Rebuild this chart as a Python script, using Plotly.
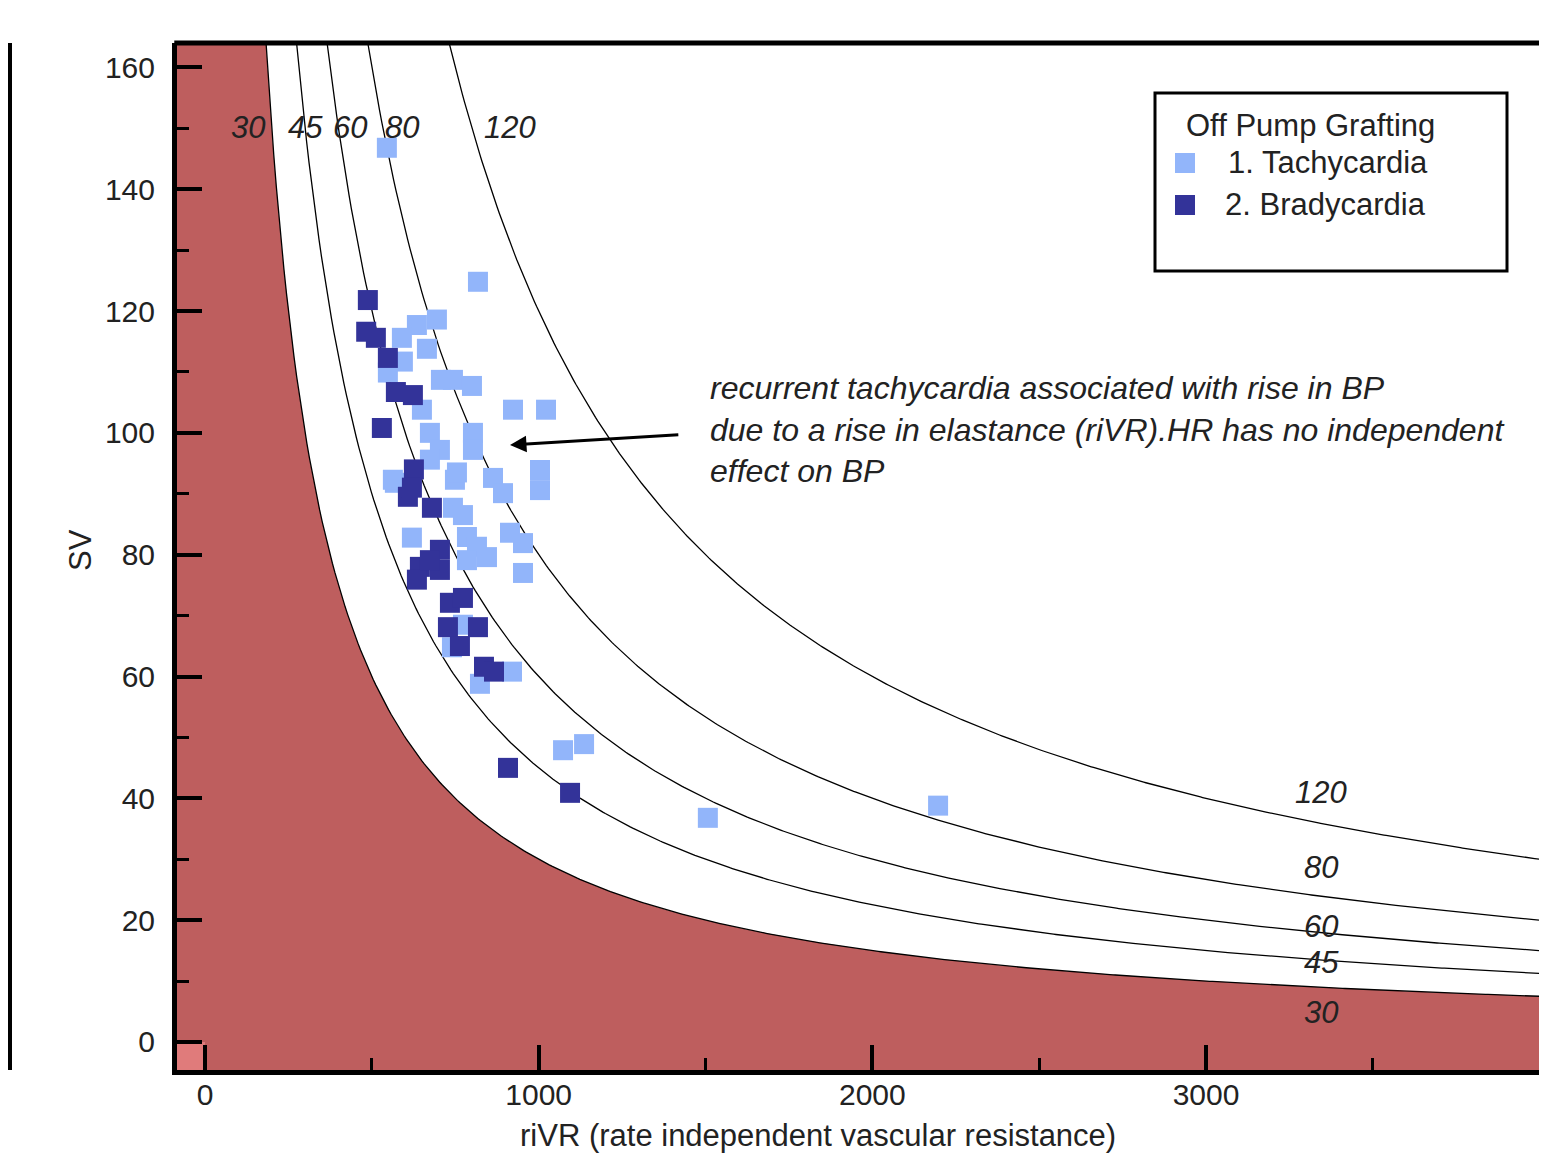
import numpy as np
import plotly.graph_objects as go

# ---------------- data ----------------
tachy_x = [545, 818, 695, 635, 590, 665, 593, 548, 707, 743, 800, 650, 923, 1022,
           674, 803, 704, 803, 674, 1004, 569, 749, 863, 893, 1004, 743, 773, 620,
           785, 815, 914, 953, 953, 785, 845, 755, 773, 740, 920, 824, 1073, 1136,
           1507, 2197, 563]
tachy_y = [146.8, 124.8, 118.6, 117.7, 115.6, 113.8, 111.7, 109.9, 108.7, 108.7, 107.7,
           103.8, 103.8, 103.8, 100.0, 100.0, 97.2, 97.2, 95.6, 93.9, 91.8, 92.3, 92.6,
           90.1, 90.6, 87.7, 86.5, 82.8, 82.9, 81.3, 83.6, 81.9, 77.0, 79.1, 79.6, 93.5,
           68.5, 64.8, 60.8, 58.8, 47.9, 48.9, 36.8, 38.8, 92.3]

brady_x = [488, 483, 512, 548, 572, 623, 530, 626, 608, 680, 704, 644, 704, 635, 674,
           734, 773, 728, 818, 764, 836, 866, 908, 1094, 620]
brady_y = [121.8, 116.6, 115.6, 112.3, 106.7, 106.2, 100.8, 94.0, 89.5, 87.7, 80.8,
           78.0, 77.5, 75.9, 79.1, 72.1, 72.9, 68.1, 68.1, 65.0, 61.6, 60.8, 45.0, 40.9, 91.0]

iso_levels = [30, 45, 60, 80, 120]
top_label_x = [129, 300, 434, 590, 914]
right_label_y = [4.8, 13.0, 18.9, 28.7, 40.9]

series_names = ["1. Tachycardia", "2. Bradycardia"]
legend_title = "Off Pump Grafting"

X_MIN, X_MAX = -84, 3998
Y_MIN, Y_MAX = -4.6, 164.0

RED = "#BE5E5E"
PINK = "#E07B7B"
LIGHT = "#92B5FA"
DARK = "#333399"
TXT = "#222"
FONT = "Liberation Sans, Arial, sans-serif"

# page geometry (body has an 8px margin)
W, H = 1531, 1146
ML, MT, MB = 169, 35, 84
PW = W - ML          # plot width in px
PH = H - MT - MB     # plot height in px
OFF = 8


def px_x(p):  # page pixel -> paper x
    return (p - OFF - ML) / PW


def px_y(p):  # page pixel -> paper y
    return (H - MB - (p - OFF)) / PH


fig = go.Figure()

# red region under the 30 iso-line
k0 = iso_levels[0] * 1000
cx = np.linspace(k0 / Y_MAX, X_MAX, 400)
cy = k0 / cx
fx = np.concatenate([[X_MIN, X_MIN], cx, [X_MAX, X_MIN]])
fy = np.concatenate([[Y_MIN, Y_MAX], cy, [Y_MIN, Y_MIN]])
fig.add_trace(go.Scatter(x=fx, y=fy, mode="lines", fill="toself", fillcolor=RED,
                         line=dict(width=0), hoverinfo="skip", showlegend=False))
# pink corner (negative quadrant)
fig.add_trace(go.Scatter(x=[X_MIN, 0, 0, X_MIN, X_MIN], y=[Y_MIN, Y_MIN, 0, 0, Y_MIN],
                         mode="lines", fill="toself", fillcolor=PINK, line=dict(width=0),
                         hoverinfo="skip", showlegend=False))

# iso-lines
for lv in iso_levels:
    k = lv * 1000
    xs = np.linspace(k / Y_MAX, X_MAX, 500)
    fig.add_trace(go.Scatter(x=xs, y=k / xs, mode="lines",
                             line=dict(color="black", width=1.3),
                             hoverinfo="skip", showlegend=False))

fig.add_trace(go.Scatter(x=tachy_x, y=tachy_y, mode="markers", name=series_names[0],
                         showlegend=False,
                         marker=dict(symbol="square", size=20, color=LIGHT, line=dict(width=0))))
fig.add_trace(go.Scatter(x=brady_x, y=brady_y, mode="markers", name=series_names[1],
                         showlegend=False,
                         marker=dict(symbol="square", size=20, color=DARK, line=dict(width=0))))

ann = []
for lv, lx in zip(iso_levels, top_label_x):
    ann.append(dict(x=lx, y=150.1, xref="x", yref="y", text=f"<i>{lv}</i>", showarrow=False,
                    xanchor="center", yanchor="middle",
                    font=dict(size=31, color=TXT, family=FONT)))
for lv, ly in zip(iso_levels, right_label_y):
    ann.append(dict(x=3345, y=ly, xref="x", yref="y", text=f"<i>{lv}</i>", showarrow=False,
                    xanchor="center", yanchor="middle",
                    font=dict(size=31, color=TXT, family=FONT)))

ann.append(dict(x=1507, y=100.5, xref="x", yref="y", xanchor="left", yanchor="middle",
                align="left", showarrow=False,
                text="<i>recurrent tachycardia associated with rise in BP<br>"
                     "due to a rise in elastance (riVR).HR has no independent<br>"
                     "effect on BP</i>",
                font=dict(size=32, color=TXT, family=FONT)))
ann.append(dict(x=914, y=98.0, ax=1423, ay=99.7, xref="x", yref="y", axref="x", ayref="y",
                text="", showarrow=True, arrowhead=2, arrowsize=1.1, arrowwidth=3,
                arrowcolor="black"))
# axis titles
ann.append(dict(x=px_x(80), y=px_y(550), xref="paper", yref="paper", text="SV", textangle=-90,
                xanchor="center", yanchor="middle",
                showarrow=False, font=dict(size=31, color=TXT, family=FONT)))
ann.append(dict(x=px_x(818), y=px_y(1135), xref="paper", yref="paper",
                xanchor="center", yanchor="middle",
                text="riVR (rate independent vascular resistance)",
                showarrow=False, font=dict(size=31, color=TXT, family=FONT)))

# manual legend
ann.append(dict(x=px_x(1184), y=px_y(125), xref="paper", yref="paper", xanchor="left",
                yanchor="middle", text=legend_title, showarrow=False,
                font=dict(size=31, color=TXT, family=FONT)))
ann.append(dict(x=px_x(1226), y=px_y(162), xref="paper", yref="paper", xanchor="left",
                yanchor="middle", text=series_names[0], showarrow=False,
                font=dict(size=31, color=TXT, family=FONT)))
ann.append(dict(x=px_x(1223), y=px_y(205), xref="paper", yref="paper", xanchor="left",
                yanchor="middle", text=series_names[1], showarrow=False,
                font=dict(size=31, color=TXT, family=FONT)))

shapes = [
    # top frame line
    dict(type="line", xref="paper", yref="paper", x0=-0.002, x1=1.0, y0=1, y1=1,
         line=dict(color="black", width=5)),
    # legend box
    dict(type="rect", xref="paper", yref="paper", x0=px_x(1155), x1=px_x(1507),
         y0=px_y(271), y1=px_y(93), line=dict(color="black", width=3),
         fillcolor="rgba(0,0,0,0)"),
    # legend swatches
    dict(type="rect", xref="paper", yref="paper", x0=px_x(1175), x1=px_x(1195),
         y0=px_y(173), y1=px_y(153), line=dict(width=0), fillcolor=LIGHT),
    dict(type="rect", xref="paper", yref="paper", x0=px_x(1175), x1=px_x(1195),
         y0=px_y(215), y1=px_y(195), line=dict(width=0), fillcolor=DARK),
    # cut-off neighbouring panel on the left
    dict(type="line", xref="paper", yref="paper", x0=px_x(10), x1=px_x(10), y0=0, y1=1,
         line=dict(color="black", width=4)),
]

fig.update_layout(
    width=W, height=H,
    margin=dict(l=ML, r=0, t=MT, b=MB),
    paper_bgcolor="white", plot_bgcolor="white",
    font=dict(family=FONT, size=30, color=TXT),
    showlegend=False,
    annotations=ann,
    shapes=shapes,
    xaxis=dict(range=[X_MIN, X_MAX], showgrid=False, zeroline=False,
               showline=True, linecolor="black", linewidth=5,
               ticks="inside", ticklen=25, tickwidth=4, tickcolor="black",
               tickvals=[0, 1000, 2000, 3000, 4000], ticklabelstandoff=-6,
               tickfont=dict(size=30, family=FONT, color=TXT),
               minor=dict(ticks="inside", ticklen=12, tickwidth=3, tickcolor="black",
                          dtick=500, showgrid=False)),
    yaxis=dict(range=[Y_MIN, Y_MAX], showgrid=False, zeroline=False,
               showline=True, linecolor="black", linewidth=5,
               ticks="inside", ticklen=25, tickwidth=4, tickcolor="black",
               tickvals=[0, 20, 40, 60, 80, 100, 120, 140, 160], ticklabelstandoff=11,
               tickfont=dict(size=30, family=FONT, color=TXT),
               minor=dict(ticks="inside", ticklen=12, tickwidth=3, tickcolor="black",
                          dtick=10, showgrid=False)),
)

fig.write_html("out.html")
